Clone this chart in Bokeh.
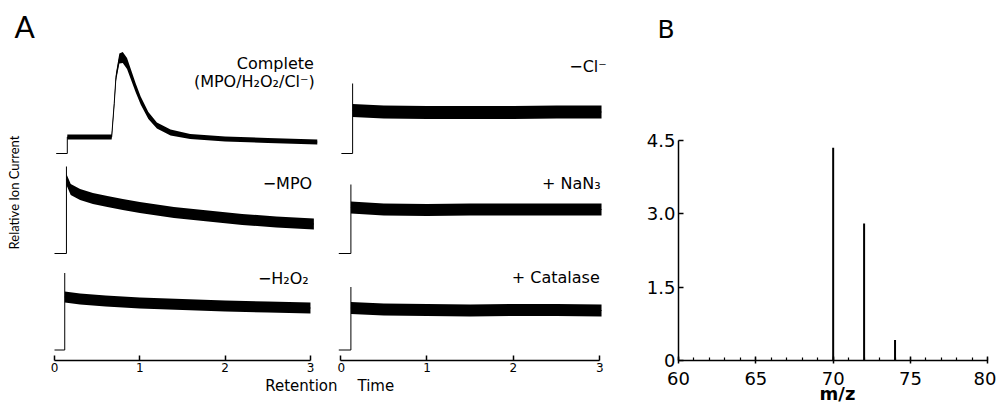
import math
from bokeh.plotting import figure
from bokeh.layouts import row
from bokeh.models import Label, FixedTicker, Range1d, Title
from bokeh.embed import file_html
from bokeh.resources import INLINE

FONT = "DejaVu Sans"

# ---------------- Panel A data (retention time, relative ion current above each trace's own baseline)
# Left column
complete_t = [0.15, 0.67, 0.70, 0.72, 0.76, 0.80, 0.85, 0.90, 0.95, 1.01, 1.10, 1.20, 1.36, 1.59, 2.00, 2.50, 3.08]
complete_y = [1.65, 1.65, 5.0, 7.6, 9.5, 9.6, 9.0, 7.8, 6.6, 5.3, 3.8, 2.8, 2.1, 1.7, 1.45, 1.3, 1.15]
complete_hw = [0.25, 0.25, 0.3, 0.4, 0.5, 0.55, 0.55, 0.5, 0.45, 0.4, 0.35, 0.3, 0.3, 0.25, 0.25, 0.25, 0.25]
complete_step = [0.02, 0.15, 1.65]   # baseline start, step time, step top

mpo_t = [0.14, 0.19, 0.30, 0.45, 0.62, 0.80, 1.00, 1.40, 1.80, 2.20, 2.60, 3.04]
mpo_y = [7.4, 6.4, 5.9, 5.5, 5.2, 4.9, 4.6, 4.1, 3.75, 3.4, 3.15, 2.95]
mpo_hw = [0.55] * len(mpo_t)
mpo_step = [0.0, 0.14, 8.7]

h2o2_t = [0.12, 0.30, 0.60, 1.00, 1.50, 2.00, 2.50, 3.00]
h2o2_y = [5.3, 5.1, 4.9, 4.7, 4.55, 4.4, 4.3, 4.2]
h2o2_hw = [0.55] * len(h2o2_t)
h2o2_step = [0.0, 0.12, 7.7]

# Right column
cl_t = [0.14, 0.50, 1.00, 1.50, 2.00, 2.50, 3.02]
cl_y = [4.3, 4.15, 4.1, 4.1, 4.1, 4.15, 4.15]
cl_hw = [0.65] * len(cl_t)
cl_step = [0.01, 0.14, 7.0]

nan3_t = [0.12, 0.50, 1.00, 1.50, 2.00, 2.50, 3.02]
nan3_y = [4.6, 4.4, 4.35, 4.4, 4.4, 4.4, 4.4]
nan3_hw = [0.6] * len(nan3_t)
nan3_step = [-0.02, 0.12, 6.9]

cat_t = [0.12, 0.50, 1.00, 1.50, 2.00, 2.50, 3.02]
cat_y = [4.2, 4.05, 4.0, 3.95, 4.0, 4.0, 3.95]
cat_hw = [0.6] * len(cat_t)
cat_step = [-0.02, 0.12, 6.3]

time_ticks = [0, 1, 2, 3]

# ---------------- Panel B data
mz = [70, 72, 74]
intensity = [4.35, 2.8, 0.42]
mz_ticks = [60, 65, 70, 75, 80]
mz_minor = list(range(60, 81))
int_ticks = [0, 1.5, 3.0, 4.5]
int_labels = ["0", "1.5", "3.0", "4.5"]

STACK = [20.4, 10.4, 0.75]   # vertical stacking of the three traces in each column

H = 410
TOP = 44
BOTTOM = 50


def add_trace(p, t, y, hw, step, off):
    p.line([step[0], step[1], step[1]], [off, off, off + step[2]], line_color="black", line_width=1)
    p.varea(x=t, y1=[off + a - h for a, h in zip(y, hw)], y2=[off + a + h for a, h in zip(y, hw)],
            fill_color="black")
    p.line(t, [off + a for a in y], line_color="black", line_width=1)


def make_col(width, x0, x1, traces):
    p = figure(width=width, height=H, x_range=Range1d(x0, x1), y_range=Range1d(-0.3, 31.3),
               output_backend="svg", toolbar_location=None, y_axis_location=None,
               min_border_left=0, min_border_right=0, min_border_top=TOP, min_border_bottom=BOTTOM)
    p.grid.visible = False
    p.outline_line_color = None
    for (t, y, hw, st), off in zip(traces, STACK):
        add_trace(p, t, y, hw, st, off)
    ax = p.xaxis[0]
    ax.ticker = FixedTicker(ticks=time_ticks)
    ax.bounds = (0, 3)
    ax.major_tick_in = 5
    ax.major_tick_out = 0
    ax.minor_tick_line_color = None
    ax.axis_line_width = 1.5
    ax.axis_line_color = "black"
    ax.major_tick_line_color = "black"
    ax.major_tick_line_width = 1.5
    ax.major_label_text_font = FONT
    ax.major_label_text_font_size = "12px"
    ax.major_label_text_color = "black"
    ax.major_label_standoff = 2
    return p


def lab(p, x, y, text, size="16px", align="right", baseline="middle", angle=0, font=FONT):
    p.add_layout(Label(x=x, y=y, text=text, text_font=font, text_font_size=size,
                       text_color="black", text_align=align, text_baseline=baseline, angle=angle))


pA1 = make_col(337, -0.633, 3.317,
               [(complete_t, complete_y, complete_hw, complete_step),
                (mpo_t, mpo_y, mpo_hw, mpo_step),
                (h2o2_t, h2o2_y, h2o2_hw, h2o2_step)])
pA2 = make_col(303, -0.035, 3.471,
               [(cl_t, cl_y, cl_hw, cl_step),
                (nan3_t, nan3_y, nan3_hw, nan3_step),
                (cat_t, cat_y, cat_hw, cat_step)])

pA1.title = Title(text="A", align="left", offset=14, text_font="Lato", text_font_size="30px",
                  text_font_style="normal", text_color="black", standoff=2)
lab(pA1, -0.469, 16.5, "Relative Ion Current", size="13px", align="center", angle=math.pi / 2, font="Lato")
lab(pA1, 3.04, 29.4, "Complete")
lab(pA1, 3.05, 27.6, "(MPO/H₂O₂/Cl⁻)")
lab(pA1, 3.02, 17.4, "−MPO")
lab(pA1, 2.98, 7.9, "−H₂O₂")
lab(pA2, 3.08, 29.1, "−Cl⁻")
lab(pA2, 3.01, 17.4, "+ NaN₃")
lab(pA2, 3.0, 8.0, "+ Catalase")

pA1.add_layout(Title(text="Retention", align="right", offset=0, text_font=FONT, text_font_size="15px",
                     text_font_style="normal", text_color="black", standoff=0), "below")
pA2.add_layout(Title(text="Time", align="left", offset=20, text_font=FONT, text_font_size="15px",
                     text_font_style="normal", text_color="black", standoff=0), "below")

# ---------------- Panel B
pB = figure(width=356, height=H, x_range=Range1d(60, 80.56), y_range=Range1d(0, 6.458),
            output_backend="svg", toolbar_location=None,
            min_border_left=38, min_border_right=0, min_border_top=TOP, min_border_bottom=BOTTOM)
pB.grid.visible = False
pB.outline_line_color = None
pB.title = Title(text="B", align="left", offset=-21, text_font=FONT, text_font_size="25px",
                 text_font_style="normal", text_color="black", standoff=2)
pB.segment(x0=mz, y0=[0] * len(mz), x1=mz, y1=intensity, line_color="black", line_width=2)

xb = pB.xaxis[0]
xb.ticker = FixedTicker(ticks=mz_ticks, minor_ticks=mz_minor)
xb.bounds = (60, 80)
xb.major_tick_in = 4
xb.major_tick_out = 3
xb.minor_tick_in = 3
xb.minor_tick_out = 0
xb.axis_line_width = 1.5
xb.major_tick_line_width = 1.5
xb.minor_tick_line_width = 1.2
xb.major_label_text_font = FONT
xb.major_label_text_font_size = "18px"
xb.major_label_text_color = "black"
xb.major_label_standoff = 8
xb.axis_label = "m/z"
xb.axis_label_text_font = FONT
xb.axis_label_text_font_size = "18px"
xb.axis_label_text_font_style = "bold"
xb.axis_label_text_color = "black"
xb.axis_label_standoff = -5

yb = pB.yaxis[0]
yb.ticker = FixedTicker(ticks=int_ticks)
yb.major_label_overrides = {k: v for k, v in zip(int_ticks, int_labels)}
yb.bounds = (0, 4.5)
yb.major_tick_in = 5
yb.major_tick_out = 0
yb.minor_tick_line_color = None
yb.axis_line_width = 1.5
yb.major_tick_line_width = 1.5
yb.major_label_text_font = FONT
yb.major_label_text_font_size = "18px"
yb.major_label_text_color = "black"
yb.major_label_standoff = 3

layout = row(pA1, pA2, pB)
open("out.html", "w").write(file_html(layout, INLINE))
